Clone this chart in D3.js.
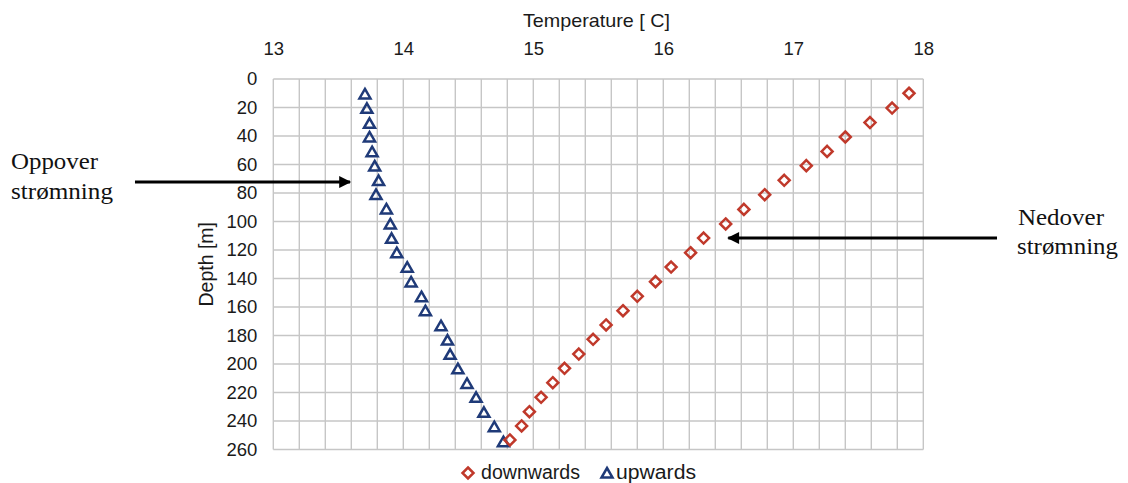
<!DOCTYPE html>
<html>
<head>
<meta charset="utf-8">
<script src="https://cdn.jsdelivr.net/npm/d3@7"></script>
<style>
  html, body { margin: 0; padding: 0; background: #fff; }
  svg { display: block; }
</style>
</head>
<body>
<svg id="chart" width="1128" height="483"></svg>
<script>
// ---- data ----
const downDepth = [10, 20.4, 30.6, 40.7, 50.8, 60.8, 71.1, 81.2, 91.5, 101.7, 111.6, 121.9, 132, 142.2, 152.5, 162.6, 172.6, 182.7, 193, 203, 213.1, 223.4, 233.5, 243.5, 253.3];
const downTemp  = [17.89, 17.76, 17.59, 17.40, 17.26, 17.10, 16.93, 16.78, 16.62, 16.48, 16.31, 16.21, 16.06, 15.94, 15.80, 15.69, 15.56, 15.46, 15.35, 15.24, 15.15, 15.06, 14.97, 14.91, 14.82];
const upDepth   = [10.5, 20.6, 31.1, 40.7, 51, 61, 71.3, 81, 91.2, 101.7, 111.8, 121.9, 132.1, 142.4, 152.8, 162.6, 173.1, 183.2, 193.2, 203.3, 213.6, 223.4, 233.9, 244, 254.5];
const upTemp    = [13.705, 13.72, 13.74, 13.74, 13.76, 13.78, 13.81, 13.79, 13.87, 13.90, 13.91, 13.95, 14.03, 14.06, 14.14, 14.17, 14.29, 14.34, 14.36, 14.42, 14.49, 14.56, 14.62, 14.70, 14.77];
const xTicks = [13, 14, 15, 16, 17, 18];
const yTicks = [0, 20, 40, 60, 80, 100, 120, 140, 160, 180, 200, 220, 240, 260];
const seriesNames = ["downwards", "upwards"];
const xTitle = "Temperature [ C]";
const yTitle = "Depth [m]";
// annotation arrows: tail and tip in data units
const annotTail = [[11.936, 72.3], [18.567, 111.6]];
const annotTip  = [[13.59, 72.3], [16.50, 111.6]];
const annotText = [["Oppover", "strømning"], ["Nedover", "strømning"]];

// ---- drawing ----
const svg = d3.select("#chart");
svg.append("rect").attr("width", 1128).attr("height", 483).attr("fill", "#fff");

const x = d3.scaleLinear().domain([13, 18]).range([273.3, 923.3]);
const y = d3.scaleLinear().domain([0, 260]).range([79, 449.5]);

const gridColor = "#c6c6c6";
const grid = svg.append("g");
grid.selectAll("line.v").data(d3.range(0, 26).map(i => 13 + i * 0.2))
  .enter().append("line")
  .attr("x1", d => x(d)).attr("x2", d => x(d))
  .attr("y1", y(0)).attr("y2", y(260))
  .attr("stroke", gridColor).attr("stroke-width", 1.4);
grid.selectAll("line.h").data(yTicks)
  .enter().append("line")
  .attr("x1", x(13)).attr("x2", x(18))
  .attr("y1", d => y(d)).attr("y2", d => y(d))
  .attr("stroke", gridColor).attr("stroke-width", 1.4);

// axes
const font = "'Liberation Sans', Arial, sans-serif";
const xAxis = svg.append("g").attr("transform", `translate(0,${y(0)})`)
  .call(d3.axisTop(x).tickValues(xTicks).tickFormat(d3.format("d")).tickSize(0).tickPadding(24));
const yAxis = svg.append("g").attr("transform", `translate(${x(13)},0)`)
  .call(d3.axisLeft(y).tickValues(yTicks).tickSize(0).tickPadding(16));
[xAxis, yAxis].forEach(a => {
  a.select(".domain").remove();
  a.selectAll("text").attr("font-family", font).attr("font-size", 18.5).attr("fill", "#1a1a1a");
});

// axis titles
svg.append("text").attr("x", 523).attr("y", 27)
  .attr("font-family", font).attr("font-size", 19).attr("fill", "#1a1a1a")
  .attr("textLength", 147).attr("lengthAdjust", "spacingAndGlyphs")
  .text(xTitle);
svg.append("text")
  .attr("transform", `translate(213,${(y(0) + y(260)) / 2}) rotate(-90)`)
  .attr("text-anchor", "middle")
  .attr("font-family", font).attr("font-size", 19.5).attr("fill", "#1a1a1a")
  .text(yTitle);

// markers
const red = "#c0392b", navy = "#1f3a78";
const diamond = "M0,-5.5L5.5,0L0,5.5L-5.5,0Z";
const tri = "M0,-5L5.5,4.5L-5.5,4.5Z";
const downData = downDepth.map((d, i) => ({ d, t: downTemp[i] }));
const upData = upDepth.map((d, i) => ({ d, t: upTemp[i] }));

svg.append("g").selectAll("path").data(upData).enter().append("path")
  .attr("d", tri).attr("transform", p => `translate(${x(p.t)},${y(p.d)})`)
  .attr("fill", "none").attr("stroke", navy).attr("stroke-width", 2.5).attr("stroke-linejoin", "miter");
svg.append("g").selectAll("path").data(downData).enter().append("path")
  .attr("d", diamond).attr("transform", p => `translate(${x(p.t)},${y(p.d)})`)
  .attr("fill", "none").attr("stroke", red).attr("stroke-width", 2.5);

// legend
const leg = svg.append("g");
leg.append("path").attr("d", diamond).attr("transform", "translate(468,473)")
  .attr("fill", "none").attr("stroke", red).attr("stroke-width", 2.5);
leg.append("text").attr("x", 481).attr("y", 479).attr("font-family", font).attr("font-size", 20)
  .attr("fill", "#1a1a1a").attr("textLength", 99).attr("lengthAdjust", "spacingAndGlyphs").text(seriesNames[0]);
leg.append("path").attr("d", tri).attr("transform", "translate(607,473)")
  .attr("fill", "none").attr("stroke", navy).attr("stroke-width", 2.5);
leg.append("text").attr("x", 616).attr("y", 479).attr("font-family", font).attr("font-size", 20)
  .attr("fill", "#1a1a1a").attr("textLength", 80).attr("lengthAdjust", "spacingAndGlyphs").text(seriesNames[1]);

// arrows
svg.append("defs").append("marker").attr("id", "ah")
  .attr("viewBox", "0 0 10 10").attr("refX", 9).attr("refY", 5)
  .attr("markerWidth", 4.8).attr("markerHeight", 4).attr("orient", "auto")
  .attr("markerUnits", "strokeWidth")
  .append("path").attr("d", "M0,0L10,5L0,10Z").attr("fill", "#000");
annotTail.forEach((tl, i) => {
  svg.append("line")
    .attr("x1", x(tl[0])).attr("y1", y(tl[1]))
    .attr("x2", x(annotTip[i][0])).attr("y2", y(annotTip[i][1]))
    .attr("stroke", "#000").attr("stroke-width", 3).attr("marker-end", "url(#ah)");
});

// annotation texts
const serif = "'Liberation Serif', 'Times New Roman', serif";
const annPos = [
  [[11, 168.5, 87], [11, 199, 102]],
  [[1018, 224.5, 86], [1017, 253.5, 101]]
];
annotText.forEach((lines, i) => {
  lines.forEach((s, j) => {
    const p = annPos[i][j];
    svg.append("text").attr("x", p[0]).attr("y", p[1])
      .attr("font-family", serif).attr("font-size", 22.5).attr("fill", "#111")
      .attr("textLength", p[2]).attr("lengthAdjust", "spacingAndGlyphs")
      .text(s);
  });
});
</script>
</body>
</html>
